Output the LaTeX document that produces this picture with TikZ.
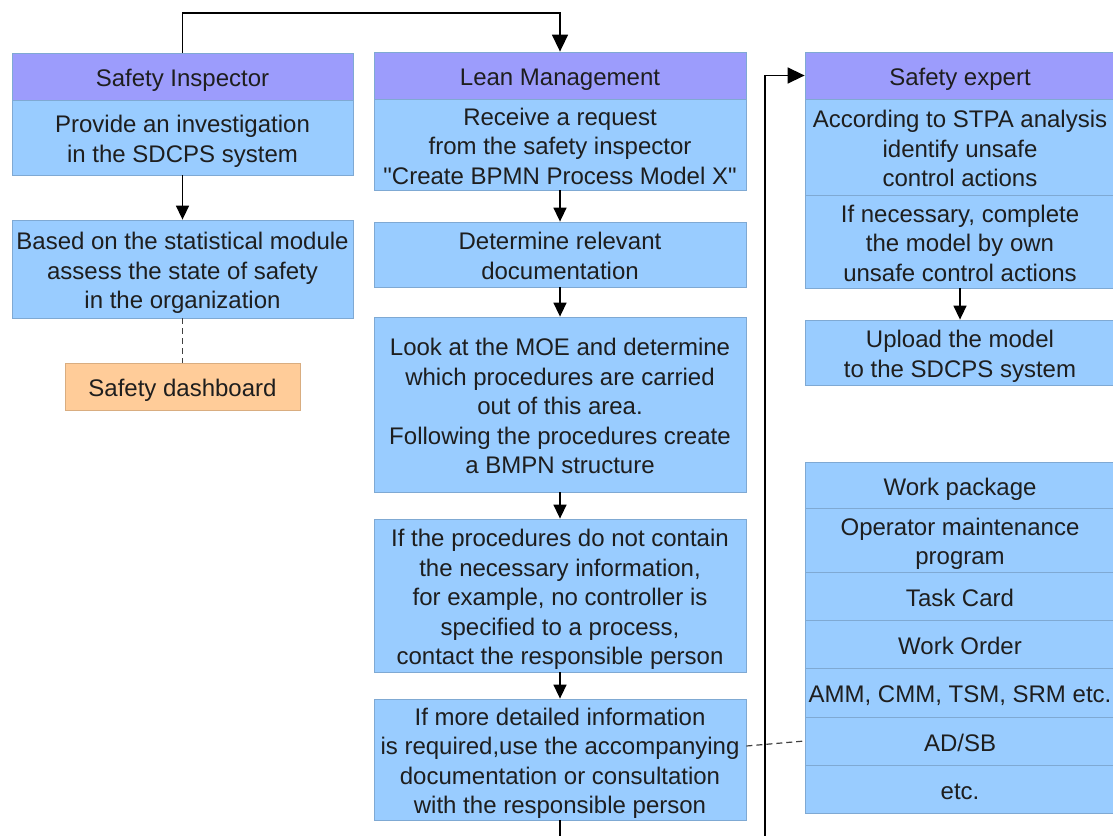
\documentclass[tikz,border=0pt]{standalone}
\usepackage{fontspec}
\setmainfont{Liberation Sans}
\usetikzlibrary{arrows.meta}
\definecolor{hdr}{HTML}{9C9CFC}
\definecolor{bodyblue}{HTML}{99CCFF}
\definecolor{edgeblue}{HTML}{7FA9D3}
\definecolor{edgeorange}{HTML}{D9AD80}
\definecolor{dash}{HTML}{FFCC99}
\definecolor{ink}{HTML}{1E1E1E}
\tikzset{
  box/.style={rectangle, inner sep=0pt, align=flush center, text=ink,
    text width=#1, minimum width=#1,
    font=\fontsize{24}{29.5}\selectfont, draw=edgeblue, line width=0.8pt,
    % even struts so every text block is centred on its line boxes
    execute at begin node={\rule{0pt}{26pt}},
    execute at end node={\rule[-6pt]{0pt}{6pt}}},
  lane/.style={box=#1, fill=hdr},
  task/.style={box=#1, fill=bodyblue},
  board/.style={box=#1, fill=dash, draw=edgeorange},
  flow/.style={line width=1.5pt, draw=black, -{Triangle[width=13pt,length=14pt]}},
  bigflow/.style={line width=1.5pt, draw=black, -{Triangle[width=16pt,length=17pt]}},
  assoc/.style={line width=1.2pt, draw=black!75, dash pattern=on 6pt off 4pt},
}
\begin{document}
\begin{tikzpicture}[x=1pt, y=-1pt]
\clip (0,0) rectangle (1113,835);
\fill[white] (0,0) rectangle (1113,835);

% left lane: Safety Inspector
\node[lane=341pt, minimum height=47] (hSI) at (182.5,76.5) {Safety Inspector};
\node[task=341pt, minimum height=75] (pInv) at (182.5,137.5)
  {Provide an investigation\\in the SDCPS system};
\node[task=341pt, minimum height=98] (pBased) at (182.5,269)
  {Based on the statistical module\\assess the state of safety\\in the organization};
\node[board=235pt, minimum height=47] (dashb) at (182.5,386.5) {Safety dashboard};

% middle lane: Lean Management
\node[lane=372pt, minimum height=47] (hLM) at (560,75.5) {Lean Management};
\node[task=372pt, minimum height=91] (pRecv) at (560,144.5)
  {Receive a request\\from the safety inspector\\\textquotedbl Create BPMN Process Model X\textquotedbl};
\node[task=372pt, minimum height=65] (pDet) at (560,254.5)
  {Determine relevant\\documentation};
\node[task=372pt, minimum height=175] (pMOE) at (560,404.5)
  {Look at the MOE and determine\\which procedures are carried\\out of this area.\\Following the procedures create\\a BMPN structure};
\node[task=372pt, minimum height=153] (pProc) at (560,595.5)
  {If the procedures do not contain\\the necessary information,\\for example, no controller is\\specified to a process,\\contact the responsible person};
\node[task=372pt, minimum height=121] (pMore) at (560,759.5)
  {If more detailed information\\is required,use the accompanying\\documentation or consultation\\with the responsible person};

% right lane: Safety expert
\node[lane=310pt, minimum height=47] (hSE) at (960,75.5) {Safety expert};
\node[task=310pt, minimum height=96] (pSTPA) at (960,147)
  {According to STPA analysis\\identify unsafe\\control actions};
\node[task=310pt, minimum height=93] (pNec) at (960,241.5)
  {If necessary, complete\\the model by own\\unsafe control actions};
\node[task=310pt, minimum height=65] (pUp) at (960,352.5)
  {Upload the model\\to the SDCPS system};

% documentation list
\node[task=310pt, minimum height=46] (dWP) at (960,485) {Work package};
\node[task=310pt, minimum height=64] (dOMP) at (960,540) {Operator maintenance\\program};
\node[task=310pt, minimum height=48] (dTC) at (960,596) {Task Card};
\node[task=310pt, minimum height=48] (dWO) at (960,644) {Work Order};
\node[task=310pt, minimum height=49] (dAMM) at (960,692.5) {AMM, CMM, TSM, SRM etc.};
\node[task=310pt, minimum height=48] (dAD) at (960,741) {AD/SB};
\node[task=310pt, minimum height=48] (dEtc) at (960,789) {etc.};

% routing points
\coordinate (top) at (560,13);
\coordinate (low1) at (560,860);
\coordinate (low2) at (765,860);

% sequence flows
\draw[bigflow] (hSI.north) |- (top) -- (hLM.north);
\draw[flow] (pInv) -- (pBased);
\draw[assoc] (pBased) -- (dashb);
\draw[flow] (pRecv) -- (pDet);
\draw[flow] (pDet) -- (pMOE);
\draw[flow] (pMOE) -- (pProc);
\draw[flow] (pProc) -- (pMore);
\draw[bigflow] (pMore.south) -- (low1) -- (low2) |- (hSE.west);
\draw[flow] (pNec) -- (pUp);
\draw[assoc] ([yshift=13.5pt]pMore.east) -- (dAD.west);
\end{tikzpicture}
\end{document}
